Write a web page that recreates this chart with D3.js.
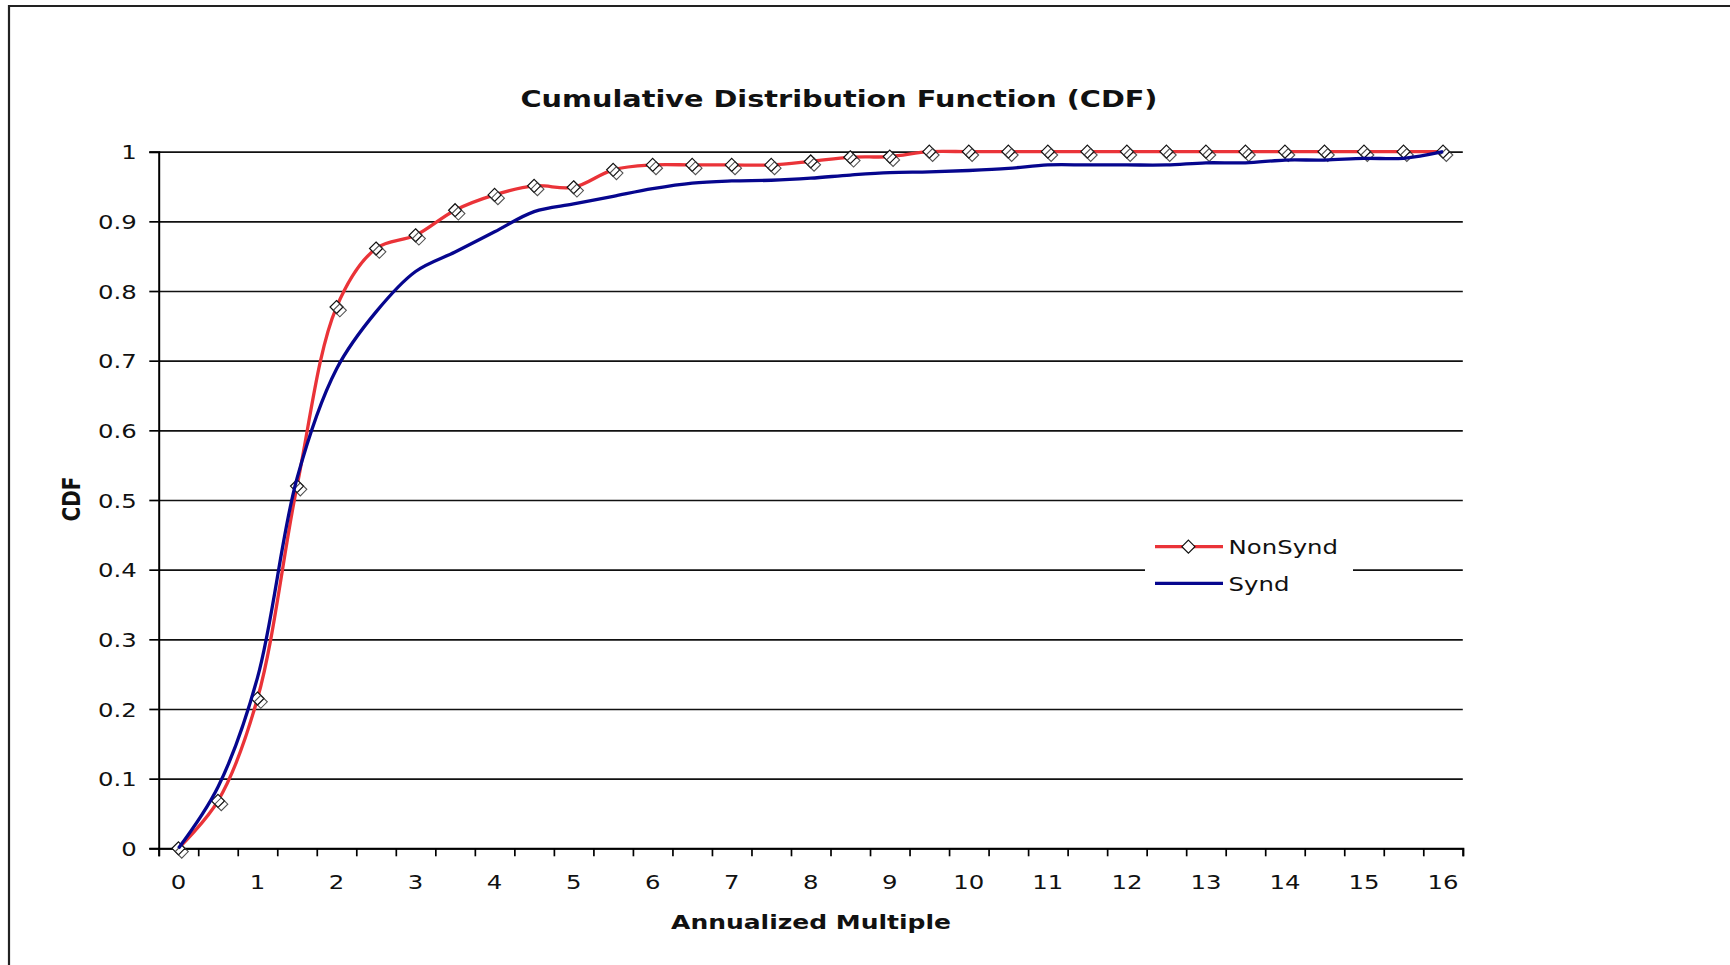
<!DOCTYPE html>
<html>
<head>
<meta charset="utf-8">
<script src="https://cdn.jsdelivr.net/npm/d3@7"></script>
<style>
  html, body { margin: 0; padding: 0; background: #fff; }
  svg { display: block; }
  text { font-family: "DejaVu Sans", Verdana, sans-serif; fill: #111; }
</style>
</head>
<body>
<svg id="chart" width="1730" height="965"></svg>
<script>
// ---------- data ----------
const categories = ["0","0.5","1","1.5","2","2.5","3","3.5","4","4.5","5","5.5","6","6.5","7","7.5","8",
                    "8.5","9","9.5","10","10.5","11","11.5","12","12.5","13","13.5","14","14.5","15","15.5","16"];
const xTickLabels = ["0","1","2","3","4","5","6","7","8","9","10","11","12","13","14","15","16"];
const nonSynd = [0, 0.068, 0.215, 0.52, 0.777, 0.861, 0.880, 0.916, 0.938, 0.951, 0.949, 0.974, 0.981,
                 0.981, 0.981, 0.981, 0.986, 0.992, 0.993, 1, 1, 1, 1, 1, 1, 1, 1, 1, 1, 1, 1, 1, 1];
const synd = [0, 0.088, 0.245, 0.531, 0.688, 0.770, 0.828, 0.856, 0.885, 0.914, 0.925, 0.936, 0.947,
              0.955, 0.958, 0.959, 0.962, 0.9665, 0.970, 0.971, 0.973, 0.976, 0.981, 0.981, 0.981, 0.981,
              0.984, 0.984, 0.988, 0.988, 0.9905, 0.9905, 1.0];
const yTicks = [0, 0.1, 0.2, 0.3, 0.4, 0.5, 0.6, 0.7, 0.8, 0.9, 1];
const seriesNames = ["NonSynd", "Synd"];
const titleText = "Cumulative Distribution Function (CDF)";
const xTitle = "Annualized Multiple";
const yTitle = "CDF";

// ---------- layout ----------
const SX = 1.25;               // horizontal glyph stretch seen in the reference
const plot = { left: 158.7, right: 1462.8, top: 151.7, bottom: 848.3 };
const RED = "#EA3338", BLUE = "#06068E";

const svg = d3.select("#chart");
svg.append("rect").attr("width", 1730).attr("height", 965).attr("fill", "#fff");

// outer border (top and left visible)
svg.append("path").attr("d", "M9,965 V6 H1730").attr("fill", "none")
  .attr("stroke", "#222").attr("stroke-width", 2.2);

const x = d3.scaleBand().domain(categories).range([plot.left, plot.right]).paddingInner(0).paddingOuter(0);
const xc = c => x(c) + x.bandwidth() / 2;
const xIdx = d3.scaleLinear().domain([0, categories.length]).range([plot.left, plot.right]);
const y = d3.scaleLinear().domain([0, 1]).range([plot.bottom, plot.top]);

// gridlines
const grid = svg.append("g").attr("transform", `translate(${plot.left},0)`)
  .call(d3.axisLeft(y).tickValues(yTicks).tickSize(-(plot.right - plot.left)).tickFormat(""));
grid.select(".domain").remove();
grid.selectAll("line").attr("stroke", "#111").attr("stroke-width", 1.7);

// y axis
const yAxis = svg.append("g").attr("transform", `translate(${plot.left},0)`)
  .call(d3.axisLeft(y).tickValues(yTicks).tickSize(9.4).tickFormat(d => d3.format("")(+d.toFixed(1))));
yAxis.select(".domain").attr("stroke", "#000").attr("stroke-width", 2);
yAxis.selectAll(".tick line").attr("stroke", "#000").attr("stroke-width", 1.7);
yAxis.selectAll(".tick text").attr("x", 0).attr("dy", "0.36em")
  .attr("transform", `translate(-22,0) scale(${SX},1)`)
  .style("font-size", "19.5px").attr("fill", "#111");

// x axis: ticks at category boundaries
const xTickAxis = svg.append("g").attr("transform", `translate(0,${plot.bottom})`)
  .call(d3.axisBottom(xIdx).tickValues(d3.range(categories.length + 1)).tickSize(8).tickFormat(""));
xTickAxis.select(".domain").attr("stroke", "#000").attr("stroke-width", 2);
xTickAxis.selectAll(".tick line").attr("stroke", "#000").attr("stroke-width", 1.7);

// x axis labels at integer categories
const xLab = svg.append("g").attr("transform", `translate(0,${plot.bottom})`)
  .call(d3.axisBottom(x).tickValues(xTickLabels).tickSize(0));
xLab.select(".domain").remove();
xLab.selectAll(".tick text").attr("y", 0).attr("dy", 0)
  .attr("transform", `translate(0,41) scale(${SX},1)`)
  .style("font-size", "19.5px").attr("fill", "#111");

// helper for stretched text
function stretchedText(px, py, str, size, weight, anchor) {
  const g = svg.append("g").attr("transform", `translate(${px},${py}) scale(${SX},1)`);
  return g.append("text").attr("text-anchor", anchor || "start")
    .style("font-size", size + "px").style("font-weight", weight || "normal").text(str);
}

// titles
stretchedText(839, 106.5, titleText, 23, "bold", "middle").attr("fill", "#000");
stretchedText(811, 929, xTitle, 20, "bold", "middle").attr("fill", "#000");
svg.append("g").attr("transform", `translate(80,499) scale(${SX},1) rotate(-90)`)
  .append("text").attr("text-anchor", "middle").style("font-size", "20px").style("font-weight", "bold")
  .attr("fill", "#000").text(yTitle);

// lines
const line = d3.line().x((d, i) => xc(categories[i])).y(d => y(d)).curve(d3.curveCatmullRom.alpha(0.5));
const diamond = (cx, cy, r) => `M${cx},${cy - r} L${cx + r},${cy} L${cx},${cy + r} L${cx - r},${cy} Z`;

svg.append("path").datum(nonSynd).attr("d", line).attr("fill", "none")
  .attr("stroke", RED).attr("stroke-width", 3.3).attr("stroke-linejoin", "round");

const mk = svg.append("g");
mk.selectAll("path.m").data(nonSynd).join("path").attr("class", "m")
  .attr("d", (d, i) => diamond(xc(categories[i]), y(d), 6.5))
  .attr("fill", "#fff").attr("stroke", "#111").attr("stroke-width", 1.2);
mk.selectAll("path.g").data(nonSynd).join("path").attr("class", "g")
  .attr("d", (d, i) => diamond(xc(categories[i]) + 3.3, y(d) + 3.3, 6.5))
  .attr("fill", "none").attr("stroke", "#333").attr("stroke-width", 1.1).attr("opacity", 0.85);

svg.append("path").datum(synd).attr("d", line).attr("fill", "none")
  .attr("stroke", BLUE).attr("stroke-width", 3.3).attr("stroke-linejoin", "round");

// legend
const lg = svg.append("g");
lg.append("rect").attr("x", 1145).attr("y", 528).attr("width", 208).attr("height", 74).attr("fill", "#fff");
lg.append("line").attr("x1", 1155).attr("x2", 1223).attr("y1", 546.7).attr("y2", 546.7)
  .attr("stroke", RED).attr("stroke-width", 3.3);
lg.append("path").attr("d", diamond(1188.4, 546.7, 6.5)).attr("fill", "#fff").attr("stroke", "#111").attr("stroke-width", 1.2);
lg.append("line").attr("x1", 1155).attr("x2", 1223).attr("y1", 583.3).attr("y2", 583.3)
  .attr("stroke", BLUE).attr("stroke-width", 3.3);
stretchedText(1228.6, 554, seriesNames[0], 19.5, "normal", "start");
stretchedText(1228.6, 590.6, seriesNames[1], 19.5, "normal", "start");
</script>
</body>
</html>
